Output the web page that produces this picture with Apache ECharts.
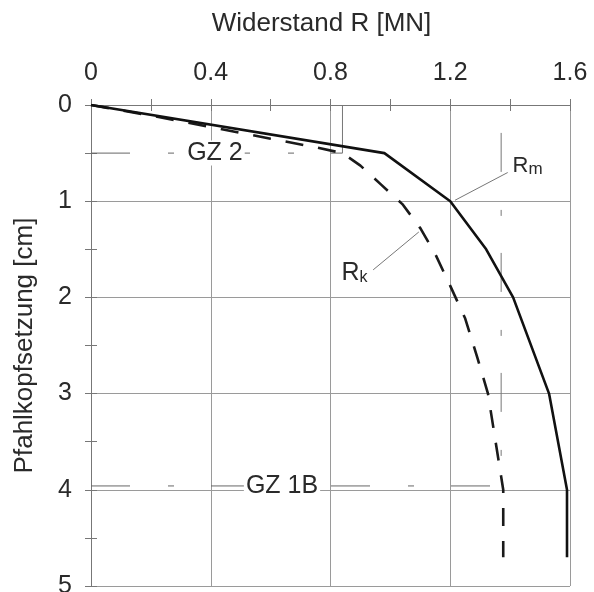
<!DOCTYPE html>
<html>
<head>
<meta charset="utf-8">
<script src="https://cdn.jsdelivr.net/npm/echarts@6/dist/echarts.min.js"></script>
<style>
  html, body { margin: 0; padding: 0; background: #fff; overflow: hidden; }
  #chart { width: 594px; height: 592px; }
</style>
</head>
<body>
<div id="chart"></div>
<script>
// ---- data ----
const xTicks = [0, 0.4, 0.8, 1.2, 1.6];
const yTicks = [0, 1, 2, 3, 4, 5];
const xName = 'Widerstand R [MN]';
const yName = 'Pfahlkopfsetzung [cm]';

// R_m (solid): [resistance MN, settlement cm]
const rmR = [0, 0.98, 1.20, 1.32, 1.41, 1.53, 1.59, 1.59];
const rmS = [0, 0.50, 1.00, 1.50, 2.00, 3.00, 4.00, 4.70];

// R_k (dashed)
const rkR = [0, 0.20, 0.40, 0.60, 0.75, 0.84, 0.90, 0.97, 1.04, 1.10, 1.15, 1.20, 1.25, 1.29, 1.326, 1.377, 1.377];
const rkS = [0, 0.11, 0.23, 0.35, 0.44, 0.50, 0.63, 0.83, 1.03, 1.28, 1.55, 1.88, 2.22, 2.62, 3.00, 4.00, 4.70];

// limit states
const gz2Line = [[0, 0.5], [0.84, 0.5]];
const gz2Drop = [[0.84, 0.5], [0.84, 0]];
const gz1bLine = [[0, 3.96], [1.34, 3.96]];
const vRefLine = [[1.37, 0.29], [1.37, 4.0]];
const gz2Label = [[0.414, 0.5]];
const gz1bLabel = [[0.638, 3.96]];

// label pointers
const rmPointer = [[1.216, 0.99], [1.393, 0.70]];
const rkPointer = [[1.095, 1.32], [0.942, 1.715]];

const zip = (a, b) => a.map((v, i) => [v, b[i]]);

const FONT = 'Liberation Sans, Arial, Helvetica, sans-serif';
const TXT = '#2a2a2a';
const GRID = '#9a9a9a';
const BOX = '#777';
const DASHDOT = [39, 38, 6, 37];

const chart = echarts.init(document.getElementById('chart'), null, { renderer: 'canvas' });

const lineSeries = (data, color, width, type, z) => ({
  type: 'line', data, xAxisIndex: 0, yAxisIndex: 0,
  symbol: 'none', showSymbol: false, silent: true, z: z || 2,
  lineStyle: { color, width, type }
});

const labelSeries = (data, label) => ({
  type: 'scatter', data, symbolSize: 1, silent: true, z: 8,
  itemStyle: { color: '#fff', opacity: 1 },
  label: Object.assign({ show: true, color: TXT, fontFamily: FONT, opacity: 1 }, label)
});

const option = {
  animation: false,
  backgroundColor: '#fff',
  textStyle: { fontFamily: FONT },
  grid: { left: 91, right: 24, top: 105, bottom: 6, containLabel: false, outerBoundsMode: 'none' },
  xAxis: [
    {
      type: 'value', position: 'top', min: 0, max: 1.6, interval: 0.4,
      name: xName, nameLocation: 'middle', nameGap: 68,
      nameTextStyle: { fontSize: 26, color: TXT, fontFamily: FONT, padding: [0, 18, 0, 0] },
      axisLine: { show: true, lineStyle: { color: BOX, width: 1 } },
      axisTick: { show: false },
      axisLabel: {
        margin: 19, fontSize: 25, color: TXT, fontFamily: FONT,
        formatter: v => { const t = xTicks.find(x => Math.abs(x - v) < 1e-6); return t === undefined ? '' : String(t); }
      },
      splitLine: { show: true, lineStyle: { color: GRID, width: 1 } }
    },
    {
      type: 'value', position: 'top', min: 0, max: 1.6, interval: 0.2,
      axisLine: { show: false }, axisLabel: { show: false },
      axisTick: { show: true, inside: true, length: 6, lineStyle: { color: BOX } },
      splitLine: { show: false }
    },
    {
      type: 'value', position: 'bottom', min: 0, max: 1.6, interval: 0.2,
      axisLine: { show: true, lineStyle: { color: BOX, width: 1 } }, axisLabel: { show: false },
      axisTick: { show: true, inside: true, length: 6, lineStyle: { color: BOX } },
      splitLine: { show: false }
    }
  ],
  yAxis: [
    {
      type: 'value', position: 'left', inverse: true, min: 0, max: 5, interval: 1,
      name: yName, nameLocation: 'middle', nameGap: 53,
      nameTextStyle: { fontSize: 26, color: TXT, fontFamily: FONT },
      axisLine: { show: true, lineStyle: { color: BOX, width: 1 } },
      axisTick: { show: false },
      axisLabel: {
        margin: 19, fontSize: 25, color: TXT, fontFamily: FONT,
        formatter: v => { const t = yTicks.find(x => Math.abs(x - v) < 1e-6); return t === undefined ? '' : String(t); }
      },
      splitLine: { show: true, lineStyle: { color: GRID, width: 1 } }
    },
    {
      type: 'value', position: 'left', inverse: true, min: 0, max: 5, interval: 0.5,
      axisLine: { show: false }, axisLabel: { show: false },
      axisTick: { show: true, inside: true, length: 6, lineStyle: { color: BOX } },
      splitLine: { show: false }
    },
    {
      type: 'value', position: 'right', inverse: true, min: 0, max: 5, interval: 0.5,
      axisLine: { show: true, lineStyle: { color: BOX, width: 1 } }, axisLabel: { show: false },
      axisTick: { show: true, inside: true, length: 6, lineStyle: { color: BOX } },
      splitLine: { show: false }
    }
  ],
  series: [
    lineSeries(gz2Line, '#666', 1, DASHDOT),
    lineSeries(gz2Drop, '#777', 1, 'solid'),
    lineSeries(gz1bLine, '#666', 1, DASHDOT),
    lineSeries(vRefLine, '#777', 1, DASHDOT),
    lineSeries(rmPointer, '#777', 1, 'solid'),
    lineSeries(rkPointer, '#777', 1, 'solid'),
    lineSeries(zip(rkR, rkS), '#1a1a1a', 2.6, [18, 15], 5),
    lineSeries(zip(rmR, rmS), '#111', 2.6, 'solid', 6),
    labelSeries(gz2Label, { position: 'inside', formatter: 'GZ 2', fontSize: 25,
                            backgroundColor: '#fff', padding: [0, 2] }),
    labelSeries(gz1bLabel, { position: 'inside', formatter: 'GZ 1B', fontSize: 25,
                             backgroundColor: '#fff', padding: [0, 2] }),
    labelSeries([rmPointer[1]], {
      position: 'right', distance: 4, offset: [0, -6],
      formatter: '{r|R}{s|m}',
      rich: {
        r: { fontSize: 22, color: TXT, fontFamily: FONT, verticalAlign: 'bottom', lineHeight: 22 },
        s: { fontSize: 17, color: TXT, fontFamily: FONT, verticalAlign: 'bottom', lineHeight: 22 }
      }
    }),
    labelSeries([rkPointer[1]], {
      position: 'left', distance: 5, offset: [0, 3],
      formatter: '{r|R}{s|k}',
      rich: {
        r: { fontSize: 25, color: TXT, fontFamily: FONT, verticalAlign: 'bottom', lineHeight: 26 },
        s: { fontSize: 16, color: TXT, fontFamily: FONT, verticalAlign: 'bottom', lineHeight: 16 }
      }
    })
  ]
};

chart.setOption(option);
</script>
</body>
</html>
